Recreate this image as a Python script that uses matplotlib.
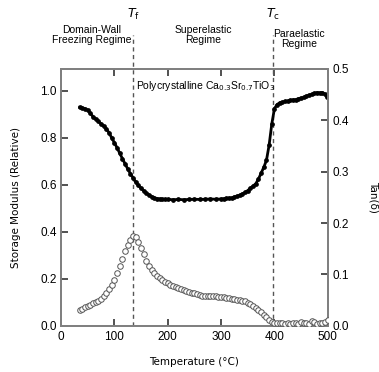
import matplotlib
matplotlib.use("Agg")
import matplotlib.pyplot as plt

# Storage modulus (relative) vs temperature
temp_mod = [35, 40, 45, 50, 55, 60, 65, 70, 75, 80, 85, 90, 95, 100, 105, 110, 115, 120,
            125, 130, 135, 140, 145, 150, 155, 160, 165, 170, 175, 180, 185, 190, 195, 200,
            210, 220, 230, 240, 250, 260, 270, 280, 290, 300, 305, 310, 315, 320, 325, 330,
            335, 340, 345, 350, 355, 360, 365, 370, 375, 380, 385, 390, 395, 400, 405, 410,
            415, 420, 425, 430, 435, 440, 445, 450, 455, 460, 465, 470, 475, 480, 485, 490,
            495, 498]
modulus = [0.930, 0.928, 0.924, 0.918, 0.905, 0.890, 0.880, 0.870, 0.860, 0.850, 0.838, 0.822,
           0.800, 0.780, 0.758, 0.735, 0.712, 0.690, 0.668, 0.648, 0.630, 0.612, 0.598, 0.586,
           0.575, 0.565, 0.557, 0.550, 0.545, 0.542, 0.540, 0.539, 0.538, 0.538, 0.537, 0.538,
           0.537, 0.538, 0.539, 0.538, 0.539, 0.540, 0.539, 0.540, 0.541, 0.543, 0.544, 0.545,
           0.549, 0.552, 0.556, 0.562, 0.568, 0.576, 0.586, 0.595, 0.605, 0.625, 0.650, 0.675,
           0.705, 0.770, 0.860, 0.925, 0.942, 0.950, 0.952, 0.955, 0.957, 0.960, 0.962, 0.963,
           0.967, 0.970, 0.972, 0.978, 0.982, 0.985, 0.990, 0.993, 0.992, 0.993, 0.985, 0.975]

# Tan(delta) vs temperature
temp_tan = list(range(35, 501, 5))
tan_delta = [0.030, 0.032, 0.036, 0.039, 0.041, 0.044, 0.046, 0.049, 0.053, 0.058, 0.064, 0.072,
             0.080, 0.090, 0.102, 0.116, 0.130, 0.145, 0.158, 0.168, 0.174, 0.172, 0.164, 0.152,
             0.139, 0.127, 0.117, 0.109, 0.102, 0.097, 0.093, 0.089, 0.086, 0.083, 0.080, 0.077,
             0.075, 0.073, 0.071, 0.069, 0.067, 0.066, 0.064, 0.063, 0.062, 0.060, 0.059, 0.059,
             0.058, 0.058, 0.059, 0.058, 0.057, 0.057, 0.056, 0.055, 0.054, 0.053, 0.052, 0.051,
             0.050, 0.049, 0.048, 0.045, 0.042, 0.039, 0.035, 0.031, 0.027, 0.022, 0.017, 0.012,
             0.008, 0.006, 0.005, 0.006, 0.005, 0.004, 0.005, 0.004, 0.006, 0.005, 0.004, 0.007,
             0.005, 0.006, 0.004, 0.009, 0.007, 0.003, 0.006, 0.005, 0.008, 0.012]

t_freeze = 135
t_curie = 398
regime_labels = ["Domain-Wall\nFreezing Regime", "Superelastic\nRegime", "Paraelastic\nRegime"]
regime_x = [58, 266, 446]

GRAY = "#808080"
plt.rcParams['font.family'] = ['Liberation Sans', 'DejaVu Sans']

fig = plt.figure(figsize=(3.79, 3.72), dpi=100)
ax = fig.add_axes([0.161, 0.124, 0.704, 0.691])
ax2 = ax.twinx()

ax.plot(temp_mod, modulus, color="black", lw=2.0, marker="o", ms=2.4, zorder=3)
ax2.plot(temp_tan, tan_delta, ls="none", marker="o", ms=4.0, mfc="white", mec="#555555",
         mew=0.7, zorder=3)

ax.set_xlim(0, 500)
ax.set_ylim(0, 1.094)
ax2.set_ylim(0, 0.5)
ax.set_xticks([0, 100, 200, 300, 400, 500])
ax.set_yticks([0.0, 0.2, 0.4, 0.6, 0.8, 1.0])
ax.set_yticklabels(["0.0", "0.2", "0.4", "0.6", "0.8", "1.0"])
ax2.set_yticks([0.0, 0.1, 0.2, 0.3, 0.4, 0.5])
ax2.set_yticklabels(["0.0", "0.1", "0.2", "0.3", "0.4", "0.5"])

for a in (ax, ax2):
    for s in a.spines.values():
        s.set_color(GRAY)
        s.set_linewidth(1.4)
    a.tick_params(direction="in", length=5, width=1.2, color="#333333", labelsize=8.5, pad=3)
ax.tick_params(axis="x", top=True, pad=4)

for tx in (t_freeze, t_curie):
    ax.axvline(tx, ymin=0, ymax=1.132, color="#555555", lw=1.0, ls=(0, (3, 2.5)),
               clip_on=False, zorder=2)

ax.text(t_freeze, 1.21, r"$T_\mathrm{f}$", transform=ax.get_xaxis_transform(),
        ha="center", va="center", fontsize=9)
ax.text(t_curie, 1.21, r"$T_\mathrm{c}$", transform=ax.get_xaxis_transform(),
        ha="center", va="center", fontsize=9)
ys = [1.133, 1.133, 1.115]
for lbl, x, y in zip(regime_labels, regime_x, ys):
    ax.text(x, y, lbl, transform=ax.get_xaxis_transform(), ha="center", va="center",
            fontsize=7.5, linespacing=1.0)

ax.text(270, 1.02, r"Polycrystalline Ca$_{0.3}$Sr$_{0.7}$TiO$_3$", ha="center", va="center",
        fontsize=7.5)

ax.set_xlabel("Temperature (°C)", family="DejaVu Sans", fontsize=7.5, labelpad=10)
ax.set_ylabel("Storage Modulus (Relative)", family="DejaVu Sans", fontsize=7.5, labelpad=14)
ax2.set_ylabel("Tan(δ)", family="DejaVu Sans", fontsize=7.5, rotation=270, labelpad=22)

fig.savefig("out.png", dpi=100)
